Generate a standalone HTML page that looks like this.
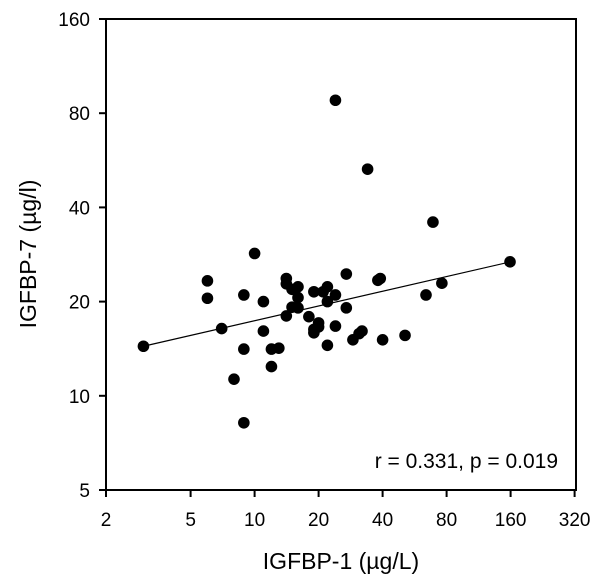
<!DOCTYPE html>
<html><head><meta charset="utf-8"><style>
html,body{margin:0;padding:0;background:#fff;}
svg{display:block;font-family:"Liberation Sans",Arial,sans-serif;}
</style></head><body>
<svg id="chart" width="600" height="583" viewBox="0 0 600 583" xmlns="http://www.w3.org/2000/svg"></svg>
<script>
const xTicks=[2,5,10,20,40,80,160,320];
const yTicks=[5,10,20,40,80,160];
const xVals=[3,6,6,7,8.9,8.9,8.9,8,10,11,11,12,13,12,14.1,14.1,14.1,15,16,16,15,16,18,19,21,22,22,24,20,19,19,20,22,24,27,27,29,31,32,38,39,40,51,64,76,159,24,34,69];
const yVals=[14.4,23.3,20.5,16.4,21,14.1,8.2,11.3,28.5,20,16.1,14.1,14.2,12.4,23.7,22.8,18,21.9,22.3,20.6,19.2,19.1,17.9,21.5,21.5,22.3,20,21,17.1,16.3,15.9,16.6,14.5,16.7,24.5,19.1,15.1,15.8,16.1,23.4,23.7,15.1,15.6,21,22.9,26.8,88,53,35.9];
const fitX=[3,160];
const fitY=[14.4,26.8];
const NS="http://www.w3.org/2000/svg";
const svg=document.getElementById('chart');
const L=106,R=576,T=19,B=490;
const sx=v=>L+Math.log2(v/2)*64;
const sy=v=>B-Math.log2(v/5)*94.2;
function mk(tag,attrs,parent){const e=document.createElementNS(NS,tag);for(const k in attrs)e.setAttribute(k,attrs[k]);(parent||svg).appendChild(e);return e;}
const frame=mk('rect',{x:L,y:T,width:R-L,height:B-T,fill:'none',stroke:'#000','stroke-width':2});


xTicks.forEach(t=>{
  const x=sx(t);
  const tk=mk('line',{x1:x,x2:x,y1:B,y2:B+7,stroke:'#000','stroke-width':2});
  
  
  const tx=mk('text',{x:x,y:B+36,'text-anchor':'middle','font-size':19});
  tx.textContent=t;
  
  
});
yTicks.forEach(t=>{
  const y=sy(t);
  const tk=mk('line',{x1:L-7,x2:L,y1:y,y2:y,stroke:'#000','stroke-width':2});
  
  
  const tx=mk('text',{x:L-16,y:y+7,'text-anchor':'end','font-size':19});
  tx.textContent=t;
  
  
});
const fl=mk('line',{x1:sx(fitX[0]),y1:sy(fitY[0]),x2:sx(fitX[1]),y2:sy(fitY[1]),stroke:'#000','stroke-width':1.2});


xVals.forEach((v,i)=>{
  const c=mk('circle',{cx:sx(v),cy:sy(yVals[i]),r:5.8,fill:'#000'});
  
  
});
const st=mk('text',{x:558,y:468,'text-anchor':'end','font-size':21});
st.textContent='r = 0.331, p = 0.019';


const xt=mk('text',{x:341,y:569,'text-anchor':'middle','font-size':23});
xt.textContent='IGFBP-1 (µg/L)';


const yt=mk('text',{x:0,y:0,'text-anchor':'middle','font-size':23,transform:'translate(36,254) rotate(-90)'});
yt.textContent='IGFBP-7 (µg/l)';


</script>
</body></html>
